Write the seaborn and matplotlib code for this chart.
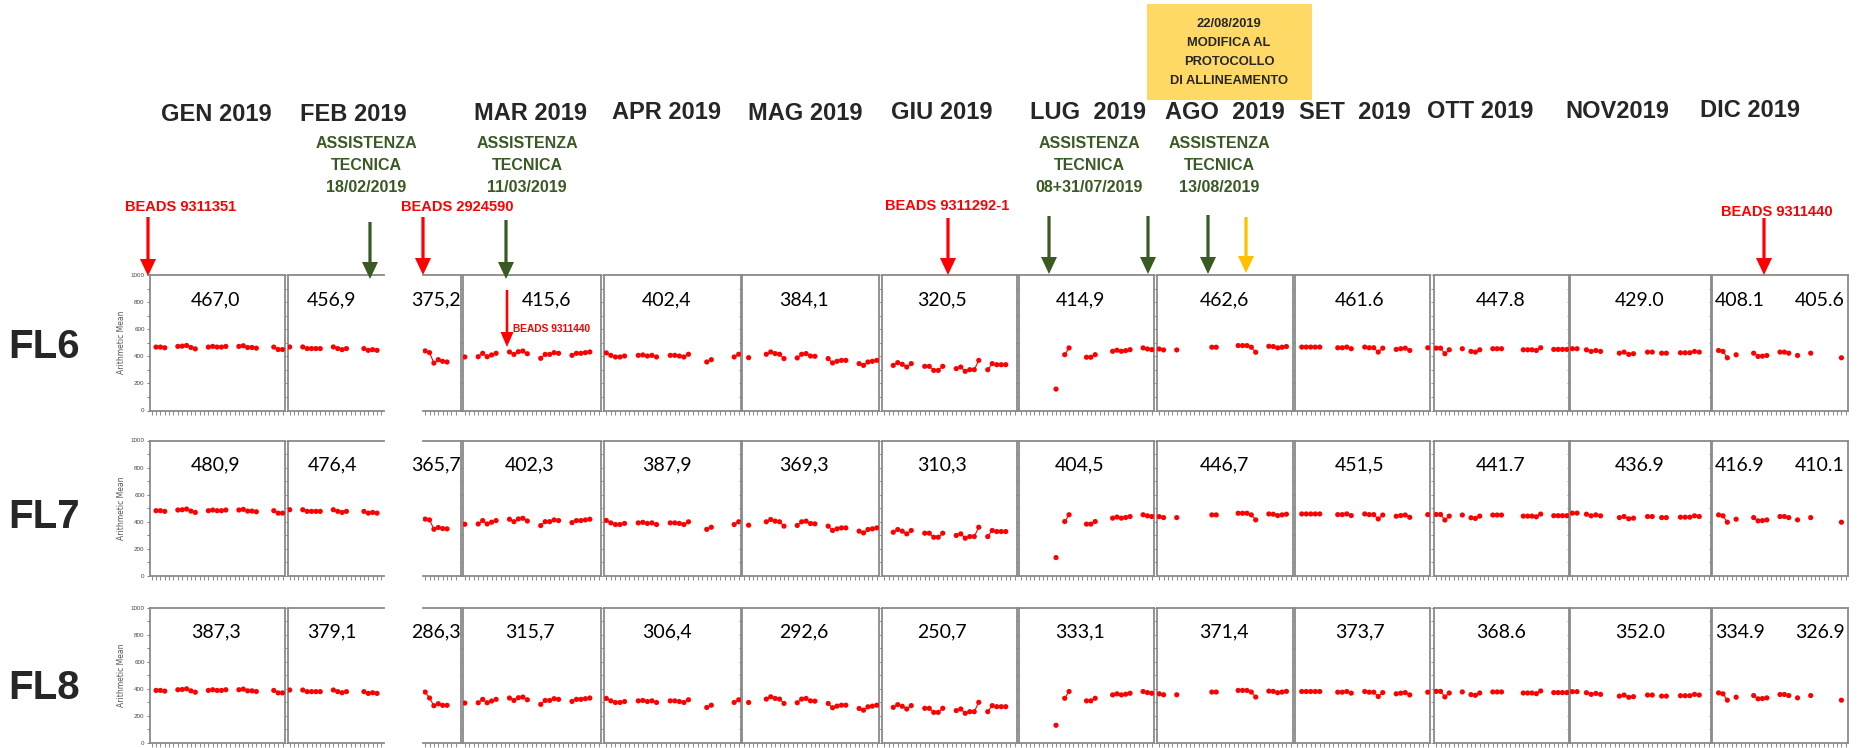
import numpy as np
import pandas as pd
import matplotlib
matplotlib.use("Agg")
import matplotlib.pyplot as plt
import seaborn as sns
from matplotlib.patches import FancyArrow, Rectangle

# ---------------- DATA ----------------
ROWS = ["FL6", "FL7", "FL8"]
PANELS = ["GEN", "FEB", "MARf", "MAR", "APR", "MAG", "GIU", "LUG", "AGO", "SET", "OTT", "NOV", "DIC"]
MONTH_LABELS = ["GEN 2019", "FEB 2019", "MAR 2019", "APR 2019", "MAG 2019", "GIU 2019",
                "LUG  2019", "AGO  2019", "SET  2019", "OTT 2019", "NOV2019", "DIC 2019"]

DAYS_GEN = [2, 3, 4, 7, 8, 9, 10, 11, 14, 15, 16, 17, 18, 21, 22, 23, 24, 25, 29, 30, 31]
DAYS_FEB = [1, 4, 5, 6, 7, 8, 11, 12, 13, 14, 18, 19, 20, 21]
DAYS_MARF = [1, 2, 3, 4, 5, 6]
DAYS_MAR = [1, 4, 5, 6, 7, 8, 11, 12, 13, 14, 15, 18, 19, 20, 21, 22, 25, 26, 27, 28, 29]
DAYS_APR = [1, 2, 3, 4, 5, 8, 9, 10, 11, 12, 15, 16, 17, 18, 19, 23, 24, 29, 30]
DAYS_MAG = [2, 6, 7, 8, 9, 10, 13, 14, 15, 16, 17, 20, 21, 22, 23, 24, 27, 28, 29, 30, 31]
DAYS_GIU = [3, 4, 5, 6, 7, 10, 11, 12, 13, 14, 17, 18, 19, 20, 21, 22, 24, 25, 26, 27, 28]
DAYS_LUG = [9, 11, 12, 16, 17, 18, 22, 23, 24, 25, 26, 29, 30, 31]
DAYS_AGO = [1, 2, 5, 13, 14, 19, 20, 21, 22, 23, 26, 27, 28, 29, 30]
DAYS_SET = [2, 3, 4, 5, 6, 10, 11, 12, 13, 16, 17, 18, 19, 20, 23, 24, 25, 26, 30]
DAYS_OTT = [1, 2, 3, 4, 7, 9, 10, 11, 14, 15, 16, 21, 22, 23, 24, 25, 28, 29, 30, 31]
DAYS_NOV = [1, 2, 4, 5, 6, 7, 11, 12, 13, 14, 17, 18, 20, 21, 24, 25, 26, 27, 28]
DAYS_DIC = [2, 3, 4, 6, 10, 11, 12, 13, 16, 17, 18, 20, 23, 30]

FL6_GEN = [468, 468, 463, 473, 475, 480, 465, 455, 468, 473, 468, 468, 473, 473, 478, 465, 465, 460, 468, 450, 450]
FL7_GEN = [482, 482, 477, 487, 489, 494, 479, 469, 482, 487, 482, 482, 487, 487, 492, 479, 479, 474, 482, 464, 464]
FL8_GEN = [388, 388, 383, 393, 395, 400, 385, 375, 388, 393, 388, 388, 393, 393, 398, 385, 385, 380, 388, 370, 370]

FL6_FEB = [469, 469, 457, 457, 457, 457, 469, 457, 449, 457, 457, 444, 449, 444]
FL7_FEB = [489, 489, 477, 477, 477, 477, 489, 477, 469, 477, 477, 464, 469, 464]
FL8_FEB = [391, 391, 379, 379, 379, 379, 391, 379, 371, 379, 379, 366, 371, 366]

FL6_MARF = [440, 427, 350, 375, 363, 358]
FL7_MARF = [420, 414, 345, 358, 350, 348]
FL8_MARF = [376, 332, 275, 290, 278, 278]

FL6_MAR = [395, 397, 422, 397, 410, 422, 432, 414, 434, 439, 419, 385, 414, 414, 427, 422, 407, 422, 422, 427, 432]
FL7_MAR = [382, 384, 409, 384, 397, 409, 419, 401, 421, 426, 406, 372, 401, 401, 414, 409, 394, 409, 409, 414, 419]
FL8_MAR = [295, 297, 322, 297, 310, 322, 332, 314, 334, 339, 319, 285, 314, 314, 327, 322, 307, 322, 322, 327, 332]

FL6_APR = [425, 407, 395, 395, 402, 407, 410, 402, 407, 395, 407, 407, 402, 395, 415, 358, 375, 395, 415]
FL7_APR = [410, 392, 380, 380, 388, 392, 396, 388, 392, 380, 392, 392, 388, 380, 400, 344, 360, 380, 400]
FL8_APR = [329, 311, 299, 299, 306, 311, 314, 306, 311, 299, 311, 311, 306, 299, 319, 262, 279, 299, 319]

FL6_MAG = [390, 415, 432, 420, 415, 383, 388, 415, 420, 402, 400, 383, 351, 363, 370, 370, 346, 333, 358, 363, 370]
FL7_MAG = [375, 400, 417, 405, 400, 368, 373, 400, 405, 387, 385, 368, 336, 348, 355, 355, 331, 318, 343, 348, 355]
FL8_MAG = [299, 324, 341, 329, 324, 292, 297, 324, 329, 311, 309, 292, 260, 272, 279, 279, 255, 242, 267, 272, 279]

FL6_GIU = [333, 353, 341, 321, 346, 326, 326, 296, 296, 326, 309, 321, 289, 301, 301, 370, 301, 346, 338, 338, 338]
FL7_GIU = [323, 343, 331, 311, 336, 316, 316, 286, 286, 316, 299, 311, 279, 291, 291, 360, 291, 336, 328, 328, 328]
FL8_GIU = [263, 283, 271, 251, 276, 256, 256, 226, 226, 256, 239, 251, 219, 231, 231, 300, 231, 276, 268, 268, 268]

FL6_LUG = [158, 412, 462, 393, 393, 412, 437, 445, 437, 442, 449, 462, 454, 449]
FL7_LUG = [136, 402, 452, 383, 383, 402, 427, 435, 427, 432, 439, 452, 444, 439]
FL8_LUG = [131, 330, 380, 311, 311, 330, 355, 363, 355, 360, 367, 380, 372, 367]

FL6_AGO = [454, 447, 447, 467, 467, 479, 479, 479, 467, 430, 474, 472, 462, 467, 472]
FL7_AGO = [438, 431, 431, 451, 451, 463, 463, 463, 451, 414, 458, 456, 446, 451, 456]
FL8_AGO = [363, 356, 356, 376, 376, 388, 388, 388, 376, 339, 383, 381, 371, 376, 381]

FL6_SET = [468, 468, 468, 468, 468, 463, 463, 468, 456, 468, 463, 463, 431, 460, 451, 456, 460, 443, 463]
FL7_SET = [458, 458, 458, 458, 458, 453, 453, 458, 446, 458, 453, 453, 421, 450, 441, 446, 450, 433, 453]
FL8_SET = [380, 380, 380, 380, 380, 375, 375, 380, 368, 380, 375, 375, 343, 372, 363, 368, 372, 355, 375]

FL6_OTT = [460, 460, 419, 448, 456, 436, 431, 448, 456, 456, 456, 448, 448, 448, 443, 463, 451, 451, 451, 451]
FL7_OTT = [454, 454, 413, 442, 450, 430, 425, 442, 450, 450, 450, 442, 442, 442, 437, 457, 445, 445, 445, 445]
FL8_OTT = [381, 381, 340, 369, 377, 357, 352, 369, 377, 377, 377, 369, 369, 369, 364, 384, 372, 372, 372, 372]

FL6_NOV = [456, 456, 448, 436, 443, 436, 423, 431, 414, 419, 431, 431, 423, 423, 426, 426, 426, 436, 431]
FL7_NOV = [464, 464, 456, 444, 451, 444, 431, 439, 422, 427, 439, 439, 431, 431, 434, 434, 434, 444, 439]
FL8_NOV = [379, 379, 371, 359, 366, 359, 346, 354, 337, 342, 354, 354, 346, 346, 349, 349, 349, 359, 354]

FL6_DIC = [443, 436, 389, 411, 423, 399, 401, 406, 431, 431, 423, 406, 423, 389]
FL7_DIC = [451, 444, 397, 419, 431, 407, 409, 414, 439, 439, 431, 414, 431, 397]
FL8_DIC = [370, 363, 316, 338, 350, 326, 328, 333, 358, 358, 350, 333, 350, 316]

MEANS_FL6 = ["467,0", "456,9", "375,2", "415,6", "402,4", "384,1", "320,5", "414,9", "462,6", "461.6", "447.8", "429.0", "408.1", "405.6"]
MEANS_FL7 = ["480,9", "476,4", "365,7", "402,3", "387,9", "369,3", "310,3", "404,5", "446,7", "451,5", "441.7", "436.9", "416.9", "410.1"]
MEANS_FL8 = ["387,3", "379,1", "286,3", "315,7", "306,4", "292,6", "250,7", "333,1", "371,4", "373,7", "368.6", "352.0", "334.9", "326.9"]

ASSIST_DATES = ["18/02/2019", "11/03/2019", "08+31/07/2019", "13/08/2019"]
BEADS_LABELS = ["BEADS 9311351", "BEADS 2924590", "BEADS 9311292-1", "BEADS 9311440"]
BOX_LINES = ["22/08/2019", "MODIFICA AL", "PROTOCOLLO", "DI ALLINEAMENTO"]

DAYS = {"GEN": DAYS_GEN, "FEB": DAYS_FEB, "MARf": DAYS_MARF, "MAR": DAYS_MAR, "APR": DAYS_APR,
        "MAG": DAYS_MAG, "GIU": DAYS_GIU, "LUG": DAYS_LUG, "AGO": DAYS_AGO, "SET": DAYS_SET,
        "OTT": DAYS_OTT, "NOV": DAYS_NOV, "DIC": DAYS_DIC}
VALUES = {
    "FL6": [FL6_GEN, FL6_FEB, FL6_MARF, FL6_MAR, FL6_APR, FL6_MAG, FL6_GIU, FL6_LUG, FL6_AGO, FL6_SET, FL6_OTT, FL6_NOV, FL6_DIC],
    "FL7": [FL7_GEN, FL7_FEB, FL7_MARF, FL7_MAR, FL7_APR, FL7_MAG, FL7_GIU, FL7_LUG, FL7_AGO, FL7_SET, FL7_OTT, FL7_NOV, FL7_DIC],
    "FL8": [FL8_GEN, FL8_FEB, FL8_MARF, FL8_MAR, FL8_APR, FL8_MAG, FL8_GIU, FL8_LUG, FL8_AGO, FL8_SET, FL8_OTT, FL8_NOV, FL8_DIC],
}
MEANS = {"FL6": MEANS_FL6, "FL7": MEANS_FL7, "FL8": MEANS_FL8}

records = []
for r in ROWS:
    for p, vals in zip(PANELS, VALUES[r]):
        d = np.array(DAYS[p])
        seg = np.concatenate([[0], np.cumsum(np.diff(d) != 1)])
        for di, v, s in zip(d, vals, seg):
            records.append((r, p, di, v, s))
df = pd.DataFrame(records, columns=["row", "panel", "day", "value", "seg"])

# ---------------- LAYOUT ----------------
W, H, DPI = 1857, 748, 100
PANEL_X = {"GEN": (149.5, 284.7, 31), "FEB": (287.5, 384, 22.1), "MARf": (423, 461, 8.7),
           "MAR": (462.6, 601, 31), "APR": (604, 741, 30), "MAG": (742, 879, 31),
           "GIU": (882, 1017, 30), "LUG": (1019, 1154, 31), "AGO": (1157, 1293, 31),
           "SET": (1295, 1430, 30), "OTT": (1434, 1569, 31), "NOV": (1570, 1711, 30),
           "DIC": (1712, 1848, 31)}
ROW_TOP = {"FL6": 275, "FL7": 440.5, "FL8": 607.5}
ROW_H = 135.5
ROW_LABEL_Y = {"FL6": 347, "FL7": 517, "FL8": 688}
NUM_Y = {"FL6": 300, "FL7": 465, "FL8": 632}
NUM_X = [216, 332, 436, 547, 667, 804, 942, 1080, 1224, 1360, 1501, 1640, 1740, 1820]

sns.set_style("white")
NARROW = ["Liberation Sans Narrow", "Liberation Sans", "DejaVu Sans"]
plt.rcParams["font.family"] = NARROW

fig = plt.figure(figsize=(W / DPI, H / DPI), dpi=DPI)
fig.patch.set_facecolor("white")

SPINE = "#8a8a8a"
for r in ROWS:
    top = ROW_TOP[r]
    for p in PANELS:
        x0, x1, nd = PANEL_X[p]
        ax = fig.add_axes([x0 / W, 1 - (top + ROW_H) / H, (x1 - x0) / W, ROW_H / H])
        sub = df[(df.row == r) & (df.panel == p)]
        sns.lineplot(data=sub, x="day", y="value", units="seg", estimator=None,
                     color="#ff0000", lw=0.8, ax=ax, legend=False)
        sns.scatterplot(data=sub, x="day", y="value", color="#ff0000", s=14,
                        edgecolor="none", ax=ax, legend=False, zorder=3)
        ax.set_xlim(0.5, 0.5 + nd)
        ax.set_ylim(0, 1000)
        ax.set_xlabel("")
        ax.set_ylabel("")
        ax.set_facecolor("white")
        for s in ax.spines.values():
            s.set_color(SPINE)
            s.set_linewidth(1.3)
        ax.set_xticks(np.arange(1, int(nd) + 1))
        ax.tick_params(axis="x", bottom=True, length=3, width=0.6, color="#777777",
                       labelbottom=False, direction="out")
        if p == "GEN":
            ax.set_yticks(np.arange(0, 1001, 200))
            ax.set_yticks(np.arange(100, 1000, 200), minor=True)
            ax.tick_params(axis="y", which="both", left=True, length=2.5, width=0.6,
                           color="#666666", labelsize=4.5, labelcolor="#444444", pad=1)
            ax.set_ylabel("Arithmetic Mean", fontsize=5.5, color="#555555",
                          family="DejaVu Sans", labelpad=3)
        else:
            ax.set_yticks(np.arange(0, 1001, 100))
            ax.tick_params(axis="y", left=(p != "MARf"), length=2, width=0.6,
                           color="#888888", labelleft=False)
        if p == "FEB":
            ax.spines["right"].set_visible(False)
        if p == "MARf":
            ax.spines["left"].set_visible(False)

# overlay in pixel coordinates
ov = fig.add_axes([0, 0, 1, 1], zorder=20)
ov.set_xlim(0, W)
ov.set_ylim(H, 0)
ov.axis("off")
ov.patch.set_alpha(0)

# row labels
for r in ROWS:
    ov.text(44, ROW_LABEL_Y[r], r, fontsize=29, fontweight="bold", ha="center", va="center")

# month headers
MONTH_X = [216, 353, 531, 666, 805, 942, 1088, 1225, 1355, 1480, 1617, 1750]
MONTH_Y = [114, 114, 113, 112, 113, 112, 112, 112, 112, 111, 111, 110]
for lab, mx, my in zip(MONTH_LABELS, MONTH_X, MONTH_Y):
    ov.text(mx, my, lab, fontsize=17, fontweight="bold", ha="center", va="center")

# panel mean values
for r in ROWS:
    for i, t in enumerate(MEANS[r]):
        x = NUM_X[i]
        if i == 3 and r != "FL6":
            x = 530
        ov.text(x, NUM_Y[r], t, fontsize=14, family=["Lato", "DejaVu Sans"],
                ha="center", va="center", color="black")

# assistance texts
GREEN = "#3a5a24"
ASSIST_X = [366, 527, 1089, 1219]
for ax_, dt in zip(ASSIST_X, ASSIST_DATES):
    for k, line in enumerate(["ASSISTENZA", "TECNICA", dt]):
        ov.text(ax_, 143 + 22 * k, line, fontsize=11.5, fontweight="bold", color=GREEN,
                ha="center", va="center")

# beads texts
BEADS_POS = [(181, 207), (457, 207), (947, 206), (1777, 212)]
for (bx, by), t in zip(BEADS_POS, BEADS_LABELS):
    ov.text(bx, by, t, fontsize=10.5, fontweight="bold", color="#ff0000", ha="center", va="center")
ov.text(552, 329, "BEADS 9311440", fontsize=7.3, fontweight="bold", color="#ff0000",
        ha="center", va="center")

# yellow box
ov.add_patch(Rectangle((1147, 4), 165, 96, facecolor="#ffd966", edgecolor="none"))
for k, t in enumerate(BOX_LINES):
    ov.text(1229, 24 + 19 * k, t, fontsize=9.3, fontweight="bold", ha="center", va="center")

# arrows
RED, YEL = "#ff0000", "#ffc000"
ARROWS = [(148, 217, 276, RED), (370, 222, 279, GREEN), (423, 217, 275, RED),
          (506, 220, 279, GREEN), (948, 218, 275, RED), (1049, 216, 274, GREEN),
          (1148, 216, 274, GREEN), (1208, 215, 274, GREEN), (1246, 217, 273, YEL),
          (1764, 218, 275, RED)]
for x, ya, yb, c in ARROWS:
    ov.add_patch(FancyArrow(x, ya, 0, yb - ya, width=3.2, head_width=16, head_length=17,
                            length_includes_head=True, color=c, lw=0))
ov.add_patch(FancyArrow(507, 290, 0, 57, width=2.6, head_width=13, head_length=15,
                        length_includes_head=True, color=RED, lw=0))

fig.savefig("out.png", dpi=DPI, facecolor="white")
